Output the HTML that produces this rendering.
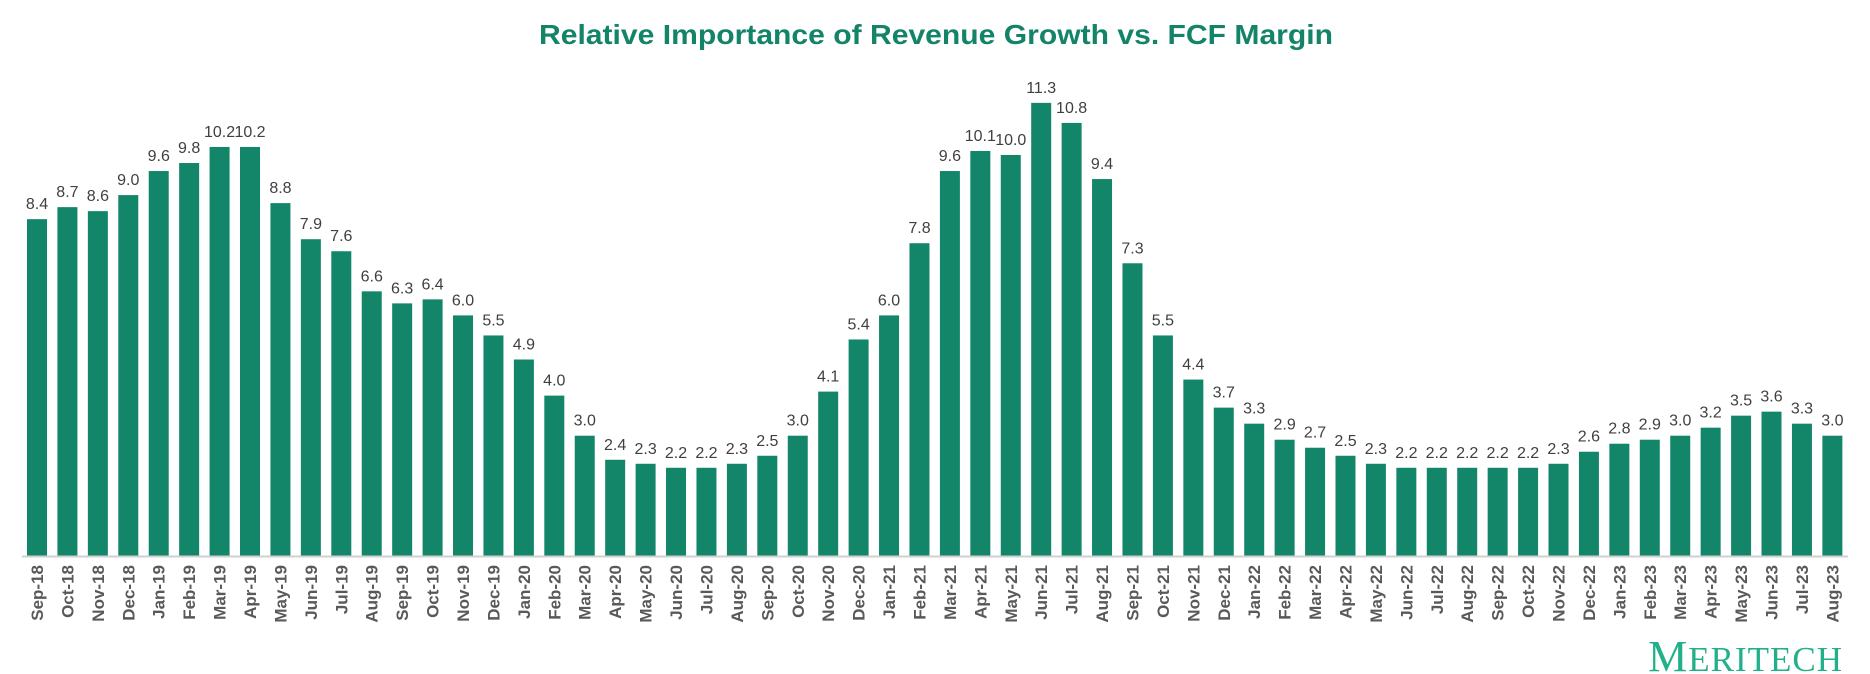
<!DOCTYPE html>
<html><head><meta charset="utf-8">
<style>
html,body{margin:0;padding:0;background:#fff;width:1870px;height:674px;overflow:hidden}
svg text{font-family:"Liberation Sans",Arial,sans-serif}
</style></head>
<body>
<svg id="chart" width="1870" height="674" viewBox="0 0 1870 674" xmlns="http://www.w3.org/2000/svg">
<text x="539" y="44" textLength="794" lengthAdjust="spacingAndGlyphs" font-size="28" font-weight="bold" fill="#138468">Relative Importance of Revenue Growth vs. FCF Margin</text>
<g id="bars"></g>
<line x1="22" y1="556.5" x2="1848" y2="556.5" stroke="#d0d0d0" stroke-width="2"/>
<text x="1843" y="671" text-anchor="end" fill="#22b08a" style="font-family:'Liberation Serif',serif" letter-spacing="1"><tspan font-size="44">M</tspan><tspan font-size="35">ERITECH</tspan></text>
</svg>
<script>
const categories=["Sep-18","Oct-18","Nov-18","Dec-18","Jan-19","Feb-19","Mar-19","Apr-19","May-19","Jun-19","Jul-19","Aug-19","Sep-19","Oct-19","Nov-19","Dec-19","Jan-20","Feb-20","Mar-20","Apr-20","May-20","Jun-20","Jul-20","Aug-20","Sep-20","Oct-20","Nov-20","Dec-20","Jan-21","Feb-21","Mar-21","Apr-21","May-21","Jun-21","Jul-21","Aug-21","Sep-21","Oct-21","Nov-21","Dec-21","Jan-22","Feb-22","Mar-22","Apr-22","May-22","Jun-22","Jul-22","Aug-22","Sep-22","Oct-22","Nov-22","Dec-22","Jan-23","Feb-23","Mar-23","Apr-23","May-23","Jun-23","Jul-23","Aug-23"];
const values=[8.4,8.7,8.6,9.0,9.6,9.8,10.2,10.2,8.8,7.9,7.6,6.6,6.3,6.4,6.0,5.5,4.9,4.0,3.0,2.4,2.3,2.2,2.2,2.3,2.5,3.0,4.1,5.4,6.0,7.8,9.6,10.1,10.0,11.3,10.8,9.4,7.3,5.5,4.4,3.7,3.3,2.9,2.7,2.5,2.3,2.2,2.2,2.2,2.2,2.2,2.3,2.6,2.8,2.9,3.0,3.2,3.5,3.6,3.3,3.0];
const labels=values.map(v=>v.toFixed(1));
const NS="http://www.w3.org/2000/svg";
const x0=27,pitch=30.43,bw=20,baseY=556,unit=40.1;
const xs=i=>x0+i*pitch;
const ys=v=>baseY-v*unit;
const g=document.getElementById('bars');
categories.forEach((c,i)=>{
  const v=values[i];
  const r=document.createElementNS(NS,'rect');
  
  
  r.setAttribute('x',xs(i));r.setAttribute('y',ys(v));
  r.setAttribute('width',bw);r.setAttribute('height',baseY-ys(v));
  r.setAttribute('fill','#13866a');
  g.appendChild(r);
  const t=document.createElementNS(NS,'text');
  
  
  t.setAttribute('x',xs(i)+bw/2);t.setAttribute('y',ys(v)-10);
  t.setAttribute('text-anchor','middle');t.setAttribute('font-size','16');t.setAttribute('fill','#404040');
  t.textContent=labels[i];
  g.appendChild(t);
  const l=document.createElementNS(NS,'text');
  
  
  const cx=xs(i)+bw/2+6, cy=565;
  l.setAttribute('x',cx);l.setAttribute('y',cy);
  l.setAttribute('transform','rotate(-90 '+cx+' '+cy+')');
  l.setAttribute('text-anchor','end');l.setAttribute('font-size','17');l.setAttribute('font-weight','bold');l.setAttribute('fill','#595959');
  l.textContent=c;
  g.appendChild(l);
});
</script>
</body></html>
